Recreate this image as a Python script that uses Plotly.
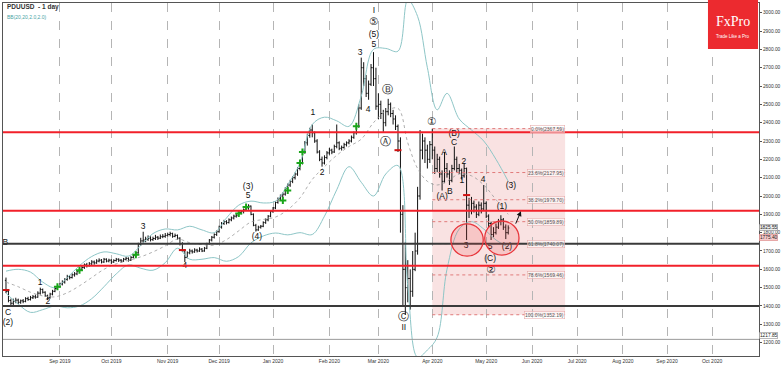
import plotly.graph_objects as go

# ---------------- data ----------------
opens = [1540,1480,1430,1415,1425,1432,1420,1428,1425,1440,1435,1445,1450,1448,1470,1490,1475,1455,1445,1465,
         1480,1495,1505,1520,1530,1545,1560,1555,1570,1575,1590,1600,1610,1625,1620,1630,1640,1635,1645,1650,
         1640,1655,1645,1650,1640,1648,1655,1650,1645,1655,1660,1650,1665,1675,1690,1735,1755,1760,1765,1770,
         1762,1768,1775,1770,1778,1780,1785,1790,1795,1780,1785,1770,1740,1700,1665,1690,1700,1695,1705,1700,
         1710,1700,1715,1740,1760,1775,1790,1805,1830,1850,1860,1855,1870,1880,1890,1895,1910,1915,1925,1935,
         1945,1900,1840,1815,1830,1835,1855,1870,1890,1915,1935,1965,1985,2000,2010,2040,2060,2080,2100,2120,
         2150,2180,2240,2290,2330,2360,2345,2300,2240,2200,2180,2210,2235,2250,2240,2270,2290,2260,2265,2280,
         2290,2300,2320,2345,2380,2480,2700,2640,2560,2610,2700,2640,2490,2500,2450,2400,2460,2500,2450,2420,
         2380,2300,1900,1600,1500,1550,1480,1600,1700,2000,2250,2300,2250,2200,2280,2250,2150,2200,2120,2080,
         2150,2120,2085,2150,2200,2150,2140,2110,2150,1950,1920,1960,1940,1900,1950,1930,1960,1890,1850,1790,
         1800,1830,1860,1870,1830,1800]
highs = [1555,1490,1440,1440,1445,1440,1435,1438,1448,1450,1455,1460,1462,1480,1500,1495,1480,1462,1472,1488,
         1502,1512,1528,1540,1552,1570,1568,1578,1585,1596,1608,1618,1632,1635,1640,1650,1648,1655,1660,1656,
         1662,1660,1658,1655,1655,1662,1660,1656,1662,1668,1665,1672,1682,1695,1745,1772,1805,1778,1785,1780,
         1778,1788,1782,1790,1792,1798,1800,1805,1800,1795,1790,1775,1748,1710,1698,1712,1708,1715,1712,1720,
         1716,1722,1745,1765,1782,1796,1812,1838,1858,1870,1868,1878,1888,1898,1902,1918,1922,1932,1942,1955,
         1948,1905,1848,1838,1842,1862,1878,1896,1920,1940,1970,1992,2008,2020,2048,2068,2088,2108,2128,2158,
         2188,2248,2300,2340,2372,2390,2352,2310,2250,2215,2222,2245,2262,2258,2280,2390,2298,2275,2290,2298,
         2310,2330,2352,2385,2500,2755,2730,2660,2630,2720,2785,2700,2560,2520,2470,2480,2530,2510,2470,2440,
         2390,2320,1950,1750,1650,1600,1700,1800,2050,2360,2340,2320,2280,2300,2367,2270,2230,2215,2140,2240,
         2180,2140,2170,2270,2215,2175,2150,2180,2155,1990,1995,1975,1955,1970,1965,2060,1970,1900,1860,1830,
         1850,1875,1895,1880,1845,1840]
lows = [1470,1420,1398,1405,1415,1410,1412,1415,1420,1428,1430,1438,1440,1445,1462,1468,1450,1432,1440,1458,
        1475,1488,1500,1512,1522,1538,1545,1550,1560,1568,1582,1592,1602,1610,1615,1622,1625,1630,1638,1632,
        1635,1638,1638,1630,1635,1642,1640,1636,1640,1648,1642,1646,1660,1668,1685,1728,1745,1748,1755,1752,
        1755,1760,1760,1765,1770,1772,1778,1780,1772,1775,1762,1730,1695,1640,1660,1682,1686,1690,1692,1695,
        1694,1696,1710,1735,1752,1768,1782,1800,1822,1842,1845,1850,1862,1872,1882,1888,1900,1905,1918,1925,
        1895,1835,1806,1810,1822,1830,1848,1862,1884,1908,1928,1958,1975,1985,2002,2030,2050,2070,2090,2110,
        2140,2172,2230,2275,2318,2320,2290,2232,2190,2160,2172,2200,2225,2228,2235,2260,2250,2248,2258,2270,
        2282,2292,2312,2335,2372,2470,2600,2540,2525,2600,2600,2470,2420,2420,2350,2380,2440,2430,2390,2360,
        2240,1800,1400,1352,1420,1380,1450,1590,1680,1980,2200,2180,2150,2180,2200,2120,2130,2100,2030,2070,
        2100,2060,2075,2140,2130,2120,2090,2100,1760,1880,1900,1910,1880,1890,1905,1920,1880,1830,1760,1775,
        1790,1820,1840,1815,1765,1790]
closes = [1480,1430,1415,1425,1432,1420,1428,1425,1440,1435,1445,1450,1448,1470,1490,1475,1455,1445,1465,1480,
          1495,1505,1520,1530,1545,1560,1555,1570,1575,1590,1600,1610,1625,1620,1630,1640,1635,1645,1650,1640,
          1655,1645,1650,1640,1648,1655,1650,1645,1655,1660,1650,1665,1675,1690,1735,1755,1760,1765,1770,1762,
          1768,1775,1770,1778,1780,1785,1790,1795,1780,1785,1770,1740,1700,1665,1690,1700,1695,1705,1700,1710,
          1700,1715,1740,1760,1775,1790,1805,1830,1850,1860,1855,1870,1880,1890,1895,1910,1915,1925,1935,1945,
          1900,1840,1815,1830,1835,1855,1870,1890,1915,1935,1965,1985,2000,2010,2040,2060,2080,2100,2120,2150,
          2180,2240,2290,2330,2360,2345,2300,2240,2200,2180,2210,2235,2250,2240,2270,2290,2260,2265,2280,2290,
          2300,2320,2345,2380,2480,2700,2640,2560,2610,2700,2640,2490,2500,2450,2400,2460,2500,2450,2420,2380,
          2300,1900,1600,1500,1550,1480,1600,1700,2000,2250,2300,2250,2200,2280,2250,2150,2200,2120,2080,2150,
          2120,2085,2150,2200,2150,2140,2110,2150,1950,1920,1960,1940,1900,1950,1930,1960,1890,1850,1790,1800,
          1830,1860,1870,1830,1800,1825.55]
bar_idx = list(range(len(closes)))

# Bollinger bands (at sparse bars)
bb_idx = [0,5,10,15,20,25,30,35,40,45,50,55,60,65,70,75,80,85,90,95,100,105,110,115,120,125,130,135,140,145,
          150,155,160,164,168,172,176,180,185,190,195,200,205]
bb_up = [1590,1600,1585,1530,1500,1555,1620,1670,1695,1685,1672,1730,1795,1820,1815,1835,1815,1800,1880,1950,
         1972,1962,1972,2062,2180,2390,2430,2410,2380,2545,2800,2805,2790,3070,2980,2700,2470,2560,2420,2360,
         2300,2200,2080]
bb_mid = [1530,1505,1475,1455,1450,1472,1510,1555,1600,1630,1648,1668,1695,1728,1765,1745,1735,1732,1762,1810,
          1858,1872,1885,1925,1990,2090,2160,2222,2270,2310,2400,2462,2478,2290,2150,2080,2060,2080,2120,2110,
          2060,1980,1900]
bb_lo = [1470,1410,1365,1380,1400,1390,1400,1440,1505,1575,1624,1606,1595,1636,1715,1655,1655,1664,1644,1670,
         1744,1782,1798,1788,1800,1790,1890,2034,2160,2075,2000,2120,2166,1510,1120,1160,1230,1600,1820,1860,
         1820,1760,1720]

green_idx = [21,30,53,95,98,113,115,120,121,143]
green_px = [1505,1595,1680,1905,1940,1975,2030,2180,2240,2380]
red_idx = [0,72,160,188]
red_px = [1487,1705,2250,2005]

wave_text = ["B","C","(2)","1","2","3","4","(3)","5","(4)","1","2","3","4","5","(5)","I",
             "II","(A)","A","B","(B)","C","2","1","3","4","(3)","5","(C)","(1)","(2)"]
wave_idx = [-0.3,0.8,0.8,13.9,17.1,56,73,98.8,98.8,102.4,125.3,129,144.5,147.8,150.2,150.2,150.2,
            162.4,178,178.8,181.2,182.9,182.9,186.9,186.1,187.8,194.7,206.1,197.6,197.6,202.4,204.5]
wave_price = [1742,1360,1306,1525,1421,1830,1617,2049,2000,1776,2453,2126,2780,2469,2822,2878,3012,
              1282,1996,2236,2023,2340,2291,2187,2083,1728,2089,2056,1722,1656,1940,1722]

circ_text = ["⑤", "Ⓑ", "Ⓐ", "Ⓒ", "①", "②"]
circ_idx = [150.2, 155.9, 154.7, 162.4, 173.9, 198]
circ_price = [2945, 2578, 2295, 1336, 2400, 1596]

fib_levels = [0.0, 23.6, 38.2, 50.0, 61.8, 78.6, 100.0]
fib_values = [2367.59, 2127.95, 1979.70, 1859.89, 1740.07, 1569.46, 1352.19]
fib_span = [174, 228.2]

red_levels = [2348, 1920, 1620]
black_levels = [1740, 1400]

month_idx = [22, 43, 66, 87, 109, 132, 152, 174, 196, 214.7, 233.1, 251.8, 269.8, 288.2]
month_labels = ["Sep 2019", "Oct 2019", "Nov 2019", "Dec 2019", "Jan 2020", "Feb 2020", "Mar 2020",
                "Apr 2020", "May 2020", "Jun 2020", "Jul 2020", "Aug 2020", "Sep 2020", "Oct 2020"]

price_tags = [1825.55, 1775.40, 1217.85]

# ---------------- figure ----------------
FONT = "Liberation Sans, Arial, DejaVu Sans"
fig = go.Figure()

band_col = "#8ec6c7"
fig.add_trace(go.Scatter(x=bb_idx, y=bb_up, mode="lines", line=dict(color=band_col, width=1, shape="spline"),
                         hoverinfo="skip", showlegend=False))
fig.add_trace(go.Scatter(x=bb_idx, y=bb_lo, mode="lines", line=dict(color=band_col, width=1, shape="spline"),
                         hoverinfo="skip", showlegend=False))
fig.add_trace(go.Scatter(x=bb_idx, y=bb_mid, mode="lines", line=dict(color="#9a9a9a", width=0.8, dash="dot", shape="spline"),
                         hoverinfo="skip", showlegend=False))

fig.add_trace(go.Ohlc(x=bar_idx, open=opens, high=highs, low=lows, close=closes,
                      increasing=dict(line=dict(color="#111111", width=1)),
                      decreasing=dict(line=dict(color="#111111", width=1)),
                      tickwidth=0.45, hoverinfo="skip", showlegend=False))

fig.add_trace(go.Scatter(x=green_idx, y=green_px, mode="markers",
                         marker=dict(symbol="cross-thin", size=5, line=dict(color="#1aa51a", width=2)),
                         hoverinfo="skip", showlegend=False))
fig.add_trace(go.Scatter(x=red_idx, y=red_px, mode="markers",
                         marker=dict(symbol="line-ew", size=5, line=dict(color="#d01010", width=2)),
                         hoverinfo="skip", showlegend=False))

fig.add_trace(go.Scatter(x=wave_idx, y=wave_price, mode="text", text=wave_text,
                         textfont=dict(family=FONT, size=8.5, color="#111111"),
                         cliponaxis=False, hoverinfo="skip", showlegend=False))
fig.add_trace(go.Scatter(x=circ_idx, y=circ_price, mode="text", text=circ_text,
                         textfont=dict(family="DejaVu Sans", size=10.5, color="#222222"),
                         cliponaxis=False, hoverinfo="skip", showlegend=False))

shapes = []
# fibonacci box
shapes.append(dict(type="rect", xref="x", yref="y", x0=fib_span[0], x1=fib_span[1],
                   y0=fib_values[-1], y1=fib_values[0], fillcolor="rgba(232,140,140,0.25)",
                   line=dict(width=0), layer="below"))
for v in fib_values:
    shapes.append(dict(type="line", xref="x", yref="y", x0=fib_span[0], x1=fib_span[1], y0=v, y1=v,
                       line=dict(color="#e07a7a", width=1, dash="dot")))
for v in red_levels:
    shapes.append(dict(type="line", xref="paper", yref="y", x0=0, x1=1, y0=v, y1=v,
                       line=dict(color="#f2202a", width=2)))
for v in black_levels:
    shapes.append(dict(type="line", xref="paper", yref="y", x0=0, x1=1, y0=v, y1=v,
                       line=dict(color="#3a3a3a", width=2)))
shapes.append(dict(type="line", xref="paper", yref="y", x0=0, x1=1, y0=price_tags[2], y1=price_tags[2],
                   line=dict(color="#9a9a9a", width=1)))
# circles
for cx, cy, rx, ry in [(188.2, 1759.6, 6.6, 88), (202.4, 1770.5, 7.0, 93)]:
    shapes.append(dict(type="circle", xref="x", yref="y", x0=cx - rx, x1=cx + rx, y0=cy - ry, y1=cy + ry,
                       fillcolor="rgba(240,70,70,0.18)", line=dict(color="#e8343a", width=1.3)))
# logo box
shapes.append(dict(type="rect", xref="paper", yref="paper", x0=0.9325, x1=0.9987, y0=0.8697, y1=1.0085,
                   fillcolor="#ec2a2f", line=dict(width=0)))

ann = []
for lv, v in zip(fib_levels, fib_values):
    ann.append(dict(x=fib_span[1], y=v, xref="x", yref="y", xanchor="right", yanchor="middle",
                    text=f"{lv:.1f}%({v:.2f})", showarrow=False,
                    font=dict(family=FONT, size=5, color="#555555"),
                    bgcolor="rgba(255,255,255,0.55)", bordercolor="#e3a0a0", borderwidth=0.5, borderpad=0.5))
# arrow
ann.append(dict(x=210.2, y=1917, ax=207.8, ay=1841, xref="x", yref="y", axref="x", ayref="y",
                text="", showarrow=True, arrowhead=2, arrowsize=1, arrowwidth=1, arrowcolor="#111111"))
# price tags
tag_styles = [("#ececec", "#8a8a8a", "middle"), ("#f6c9c9", "#dd8888", "middle"), ("#ffffff", "#8a8a8a", "bottom")]
for v, (bg, bc, ya) in zip(price_tags, tag_styles):
    ann.append(dict(x=1.0, y=v, xref="paper", yref="y", xanchor="left", yanchor=ya,
                    text=f"{v:.2f}", showarrow=False, font=dict(family=FONT, size=4.8, color="#222"),
                    bgcolor=bg, bordercolor=bc, borderwidth=0.6, borderpad=0.3))
# titles
ann.append(dict(x=0.0026, y=0.9887, xref="paper", yref="paper", xanchor="left", yanchor="middle",
                text="<b>PDUUSD  - 1 day</b>", showarrow=False, font=dict(family=FONT, size=6.5, color="#333")))
ann.append(dict(x=0.0026, y=0.960, xref="paper", yref="paper", xanchor="left", yanchor="middle",
                text="BB(20,20,2.0,2.0)", showarrow=False, font=dict(family=FONT, size=5, color="#4aa3a5")))
# logo
ann.append(dict(x=0.9656, y=0.947, xref="paper", yref="paper", xanchor="center", yanchor="middle",
                text="FxPro", showarrow=False, font=dict(family="Liberation Serif, DejaVu Serif", size=14, color="white")))
ann.append(dict(x=0.9656, y=0.905, xref="paper", yref="paper", xanchor="center", yanchor="middle",
                text="Trade Like a Pro", showarrow=False, font=dict(family=FONT, size=4.5, color="white")))

fig.update_layout(
    width=782, height=366,
    margin=dict(l=3, r=23, t=3, b=10),
    paper_bgcolor="white", plot_bgcolor="white",
    shapes=shapes, annotations=ann, showlegend=False,
    xaxis=dict(range=[-1.22, 307.35], tickmode="array", tickvals=month_idx, ticktext=month_labels,
               showgrid=True, gridcolor="#b5b5b5", griddash="dash", gridwidth=1,
               showline=True, linecolor="#555555", linewidth=1, mirror=True,
               ticks="", tickfont=dict(family=FONT, size=5, color="#333"),
               rangeslider=dict(visible=False), zeroline=False, automargin=False),
    yaxis=dict(range=[1127.1, 3052.9], side="right", tickmode="linear", tick0=1200, dtick=100,
               tickformat=".2f", showgrid=False, zeroline=False,
               showline=True, linecolor="#555555", linewidth=1, mirror=True,
               ticks="outside", ticklen=2, tickcolor="#555555",
               tickfont=dict(family=FONT, size=4.8, color="#333"), automargin=False),
)

fig.write_html("out.html", config={"displayModeBar": False},
               post_script="document.body.style.margin='0';document.body.style.overflow='hidden';")
